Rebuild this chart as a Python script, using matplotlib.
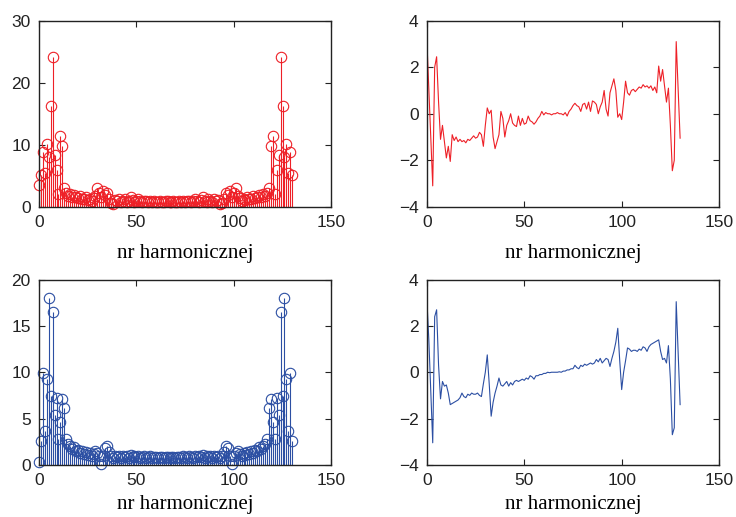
import numpy as np
import matplotlib.pyplot as plt

# FFT spectrum (131 bins): magnitude and phase for two signals
red_mag = [
    3.5, 5.2, 8.8, 5.4, 10.2, 8.0, 16.2, 24.1, 8.3, 6.0,
    2.0, 11.4, 9.8, 3.0, 2.2, 1.8, 2.0, 1.6, 1.9, 1.5,
    1.4, 1.7, 1.3, 1.2, 1.5, 1.1, 1.3, 1.0, 1.4, 1.8,
    3.0, 2.2, 1.5, 2.6, 1.9, 2.3, 1.2, 0.6, 0.4, 1.1,
    0.9, 1.3, 0.8, 1.0, 1.2, 0.7, 0.9, 1.5, 1.1, 0.8,
    1.0, 1.2, 0.9, 0.8, 1.0, 0.9, 0.8, 0.9, 0.8, 0.9,
    0.8, 0.8, 0.9, 0.8, 0.8, 0.9,
    0.9, 0.8, 0.8, 0.9, 0.8, 0.8, 0.9, 0.8, 0.9, 0.8,
    0.9, 1.0, 0.8, 0.9, 1.2, 1.0, 0.8, 1.1, 1.5, 0.9,
    0.7, 1.2, 1.0, 0.8, 1.3, 0.9, 1.1, 0.4, 0.6, 1.2,
    2.3, 1.9, 2.6, 1.5, 2.2, 3.0, 1.8, 1.4, 1.0, 1.3,
    1.1, 1.5, 1.2, 1.3, 1.7, 1.4, 1.5, 1.9, 1.6, 2.0,
    1.8, 2.2, 3.0, 9.8, 11.4, 2.0, 6.0, 8.3, 24.1, 16.2,
    8.0, 10.2, 5.4, 8.8, 5.2]

red_phase = [
    3.14, 1.05, -1.0, -3.1, 2.0, 2.45, 0.5, -1.1, -0.5, -1.2,
    -1.9, -1.4, -2.05, -0.9, -1.15, -1.0, -1.2, -1.1, -1.2, -1.15,
    -1.25, -1.1, -1.15, -1.05, -0.95, -1.05, -1.0, -0.8, -0.9, -1.4,
    -0.5, 0.25, 0.0, 0.15, -1.0, -1.5, -1.2, -0.9, 0.1, -0.2,
    -1.0, -0.5, -0.3, 0.0, -0.4, -0.5, -0.55, -0.1, -0.5, -0.2,
    -0.45, -0.4, -0.1, -0.3, -0.35, -0.45, -0.35, -0.2, -0.1, 0.1,
    -0.05, 0.05, 0.0, 0.0, -0.05, 0.0,
    0.0, 0.05, 0.0, 0.0, -0.05, 0.05, -0.1, 0.1, 0.2, 0.35,
    0.45, 0.35, 0.3, 0.1, 0.4, 0.45, 0.2, 0.5, 0.1, 0.55,
    0.5, 0.4, 0.0, 0.3, 0.5, 1.0, 0.2, -0.1, 0.9, 1.2,
    1.5, 1.0, -0.15, 0.0, -0.25, 0.5, 1.4, 0.9, 0.8, 1.0,
    1.05, 0.95, 1.05, 1.15, 1.1, 1.25, 1.15, 1.2, 1.1, 1.2,
    1.0, 1.15, 0.9, 2.05, 1.4, 1.9, 1.2, 0.5, 1.1, -0.5,
    -2.45, -2.0, 3.1, 1.0, -1.05]

blue_mag = [
    0.3, 2.6, 9.9, 3.6, 9.3, 18.0, 7.4, 16.5, 5.4, 7.2,
    2.8, 4.6, 7.1, 6.1, 2.8, 2.2, 2.0, 1.7, 1.9, 1.5,
    1.6, 1.3, 1.5, 1.2, 1.4, 1.1, 1.3, 1.0, 1.2, 1.5,
    1.3, 0.9, 0.1, 1.0, 1.8, 2.0, 1.4, 0.9, 0.7, 1.0,
    0.8, 0.9, 0.7, 1.0, 0.8, 0.9, 0.7, 1.1, 0.8, 0.9,
    0.8, 1.0, 0.7, 0.8, 0.9, 0.7, 0.8, 0.9, 0.7, 0.8,
    0.8, 0.7, 0.8, 0.8, 0.7, 0.8,
    0.8, 0.7, 0.8, 0.8, 0.7, 0.8, 0.8, 0.7, 0.9, 0.8,
    0.7, 0.9, 0.8, 0.7, 1.0, 0.8, 0.9, 0.8, 1.1, 0.7,
    0.9, 0.8, 1.0, 0.7, 0.9, 0.8, 1.0, 0.7, 0.9, 1.4,
    2.0, 1.8, 1.0, 0.1, 0.9, 1.3, 1.5, 1.2, 1.0, 1.3,
    1.1, 1.4, 1.2, 1.5, 1.3, 1.6, 1.5, 1.9, 1.7, 2.0,
    2.2, 2.8, 6.1, 7.1, 4.6, 2.8, 7.2, 5.4, 16.5, 7.4,
    18.0, 9.3, 3.6, 9.9, 2.6]

blue_phase = [
    3.14, 1.4, -0.8, -3.05, 2.4, 2.7, 0.3, -1.15, -0.4, -0.6,
    -0.55, -0.9, -1.4, -1.35, -1.3, -1.25, -1.2, -1.1, -0.9, -1.05,
    -1.1, -0.95, -1.0, -0.9, -0.95, -0.95, -0.9, -1.0, -1.05, -0.5,
    0.0, 0.75, -0.5, -1.9, -1.3, -0.9, -0.6, -0.25, -0.55, -0.6,
    -0.5, -0.4, -0.6, -0.45, -0.55, -0.4, -0.35, -0.4, -0.35, -0.3,
    -0.35, -0.25, -0.3, -0.15, -0.2, -0.3, -0.15, -0.15, -0.1, -0.1,
    -0.05, -0.05, 0.0, -0.02, 0.0, 0.0,
    0.0, 0.0, 0.02, 0.0, 0.05, 0.05, 0.1, 0.1, 0.15, 0.15,
    0.3, 0.2, 0.15, 0.3, 0.25, 0.35, 0.3, 0.35, 0.4, 0.35,
    0.4, 0.55, 0.45, 0.6, 0.4, 0.5, 0.6, 0.55, 0.25, 0.6,
    0.9, 1.3, 1.9, 0.5, -0.75, 0.0, 0.5, 1.05, 1.0, 0.9,
    0.95, 0.95, 0.9, 1.0, 0.95, 1.1, 1.05, 0.9, 1.1, 1.2,
    1.25, 1.3, 1.35, 1.4, 0.9, 0.55, 0.6, 0.4, 1.15, -0.3,
    -2.7, -2.4, 3.05, 0.8, -1.4]

x_ticks = [0, 50, 100, 150]
xlabel = 'nr harmonicznej'
red = '#ee2027'
blue = '#2c4fa3'

tick_font = 'Liberation Sans'
label_font = 'Liberation Serif'

fig = plt.figure(figsize=(7.36, 5.17), dpi=100)

# axes rectangles in figure fractions
ax_tl = fig.add_axes([0.053, 0.600, 0.397, 0.360])
ax_tr = fig.add_axes([0.580, 0.600, 0.397, 0.360])
ax_bl = fig.add_axes([0.053, 0.101, 0.397, 0.358])
ax_br = fig.add_axes([0.580, 0.101, 0.397, 0.358])


def draw_stem(ax, vals, col, ymax, yticks):
    k = np.arange(len(vals))
    markerline, stemlines, baseline = ax.stem(k, vals, basefmt=' ')
    markerline.set_color(col)
    markerline.set_markerfacecolor('none')
    markerline.set_markersize(7.5)
    markerline.set_markeredgewidth(0.8)
    markerline.set_clip_on(False)
    stemlines.set_color(col)
    stemlines.set_linewidth(0.8)
    ax.set_ylim(0, ymax)
    ax.set_yticks(yticks)


def draw_phase(ax, vals, col):
    k = np.arange(len(vals))
    ax.plot(k, vals, color=col, lw=0.8)
    ax.set_ylim(-4, 4)
    ax.set_yticks([-4, -2, 0, 2, 4])


draw_stem(ax_tl, red_mag, red, 30, [0, 10, 20, 30])
draw_stem(ax_bl, blue_mag, blue, 20, [0, 5, 10, 15, 20])
draw_phase(ax_tr, red_phase, red)
draw_phase(ax_br, blue_phase, blue)

for ax in [ax_tl, ax_tr, ax_bl, ax_br]:
    ax.set_xlim(0, 150)
    ax.set_xticks(x_ticks)
    ax.tick_params(direction='in', top=True, right=True, length=4, width=0.8,
                   labelsize=12.5, pad=6, colors='#222222')
    for lab in ax.get_xticklabels() + ax.get_yticklabels():
        lab.set_fontfamily(tick_font)
    for sp in ax.spines.values():
        sp.set_linewidth(1.0)
        sp.set_color('#222222')

# bottom-row labels sit a bit higher so they stay inside the figure
for ax in [ax_tl, ax_tr]:
    ax.set_xlabel(xlabel, fontfamily=label_font, fontsize=15, labelpad=10)
for ax in [ax_bl, ax_br]:
    ax.set_xlabel(xlabel, fontfamily=label_font, fontsize=15, labelpad=5)

fig.savefig('out.png', dpi=100)
